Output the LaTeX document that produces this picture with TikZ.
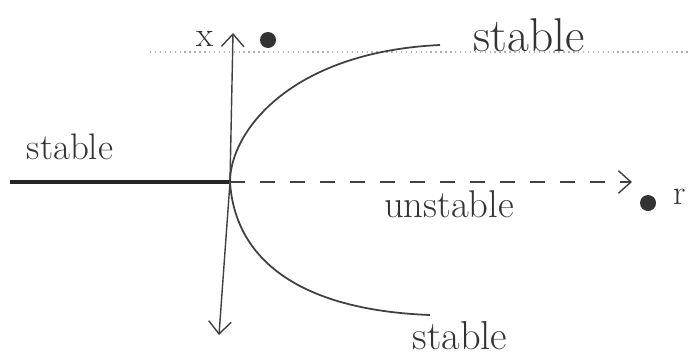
\documentclass[tikz,border=0pt]{standalone}
\usepackage{tikz}
\usepackage{xcolor}
\usetikzlibrary{positioning, arrows.meta}
\tikzset{
    lbl/.style={inner sep=1pt, font=\fontsize{20}{24}\selectfont, text=black!80},
    pen/.style={draw=black!75, line width=0.8pt},
    barb/.tip={Straight Barb[length=2.5mm, width=4.5mm]},
    branch/.style={pen, line width=1pt},
    blob/.style={circle, fill=black!80, inner sep=0pt, minimum size=3.2mm}
}

\begin{document}
\begin{tikzpicture}[>=Stealth]
\useasboundingbox (-4.6,-3.6) rectangle (9.18,3.64);

% Points
\coordinate (O) at (0,0);
\coordinate (top) at (0.06,2.98);
\coordinate (bot) at (-0.22,-3.06);
\coordinate (left) at (-4.4,0);
\coordinate (right) at (8.04,0);
\coordinate (up) at (4.2,2.74);
\coordinate (down) at (4.0,-2.66);

% Labels
\node[lbl] (x) at (-0.5,2.86) {x};
\node[lbl] (r) at (9.0,-0.3) {r};
\node[lbl, font=\fontsize{27}{31}\selectfont] (s1) at (5.98,2.94) {stable};
\node[lbl, font=\fontsize{21}{25}\selectfont] (s2) at (-3.2,0.7) {stable};
\node[lbl, font=\fontsize{23}{27}\selectfont] (s3) at (4.6,-3.08) {stable};
\node[lbl, font=\fontsize{22}{26}\selectfont] (u) at (4.38,-0.44) {unstable};
\node[blob] (d1) at (0.76,2.84) {};
\node[blob] (d2) at (8.36,-0.42) {};

% Axes
\draw[black!30, dotted, line width=0.8pt] (-1.6,2.6) -- (9.18,2.6);
\draw[pen, barb-barb] (bot) -- (O) -- (top);
\draw[draw=black!85, line width=1.8pt] (left) -- (O);
\draw[pen, dashed, dash pattern=on 3mm off 3mm, -barb] (O) -- (right);

% Branches
\draw[branch] (O) .. controls (0,1.0) and (1.2,2.6) .. (up);
\draw[branch] (O) .. controls (0.1,-1.56) and (1.4,-2.56) .. (down);

\end{tikzpicture}
\end{document}
